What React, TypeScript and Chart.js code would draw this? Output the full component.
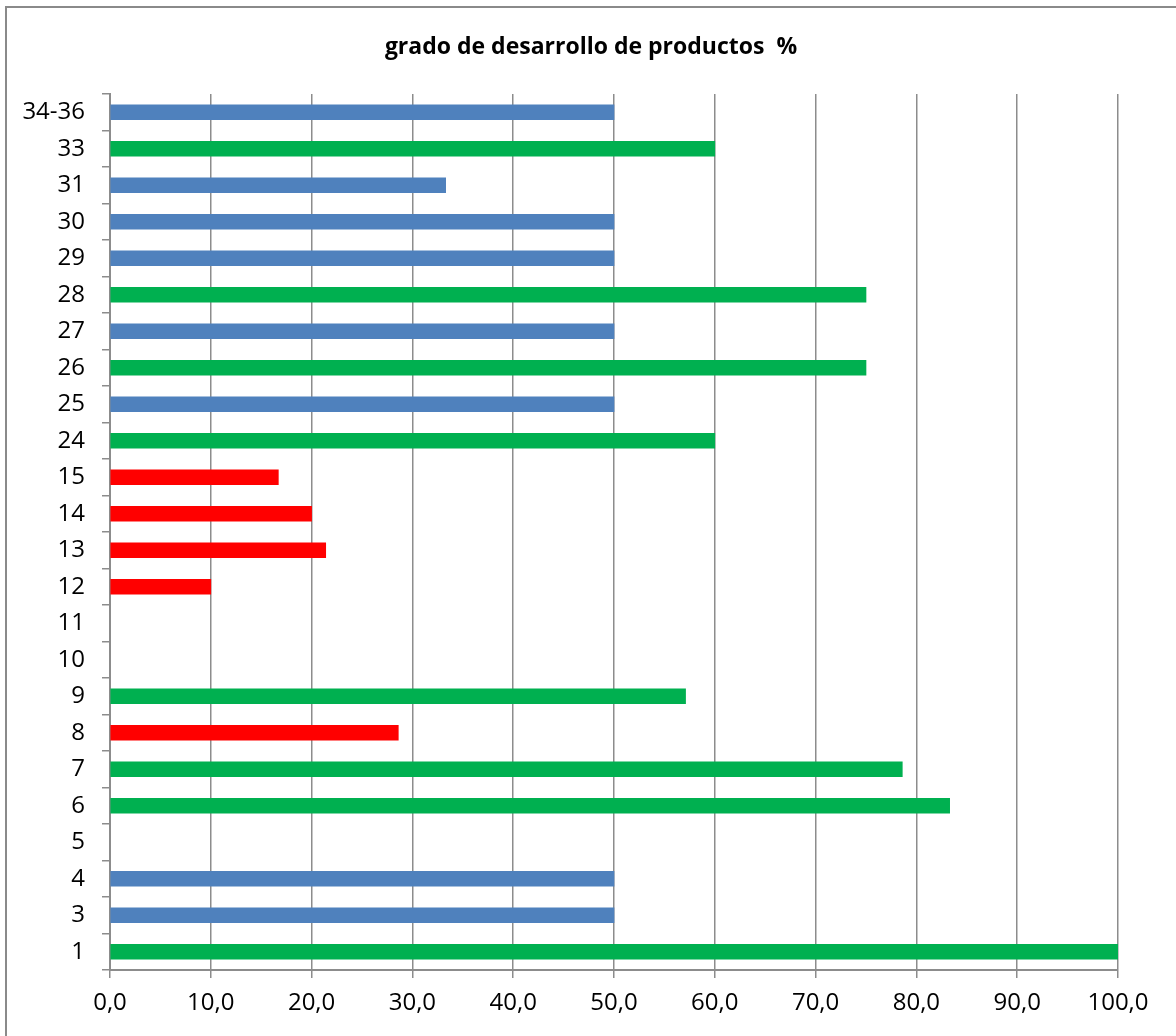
import React, { useEffect, useRef } from "react";
import { Chart, registerables } from "chart.js";

Chart.register(...registerables);

const TITLE = "grado de desarrollo de productos  %";

const categories: string[] = [
  "34-36", "33", "31", "30", "29", "28", "27", "26", "25", "24",
  "15", "14", "13", "12", "11", "10", "9", "8", "7", "6", "5", "4", "3", "1",
];

const values: (number | null)[] = [
  50, 60, 33.3, 50, 50, 75, 50, 75, 50, 60,
  16.7, 20, 21.4, 10, null, null, 57.1, 28.6, 78.6, 83.3, null, 50, 50, 100,
];

// status group per category: b = blue, g = green, r = red
const groups: string[] = [
  "b", "g", "b", "b", "b", "g", "b", "g", "b", "g",
  "r", "r", "r", "r", "r", "r", "g", "r", "g", "g", "b", "b", "b", "g",
];

const xTicks: number[] = [0, 10, 20, 30, 40, 50, 60, 70, 80, 90, 100];

const COLORS: Record<string, string> = {
  b: "#4F81BD",
  g: "#00B050",
  r: "#FF0000",
};

const FONT = "'Open Sans', 'DejaVu Sans', sans-serif";
const GRID = "#8c8c8c";

const frame = {
  id: "frame",
  afterDraw(chart: any) {
    const ctx = chart.ctx;
    ctx.save();
    ctx.strokeStyle = "#8a8a8a";
    ctx.lineWidth = 2;
    ctx.beginPath();
    ctx.moveTo(6, chart.height + 5);
    ctx.lineTo(6, 7);
    ctx.lineTo(chart.width + 5, 7);
    ctx.stroke();
    ctx.fillStyle = "#000";
    ctx.font = `bold 23px ${FONT}`;
    ctx.textAlign = "center";
    ctx.textBaseline = "middle";
    ctx.fillText(TITLE, 591, 47);
    ctx.restore();
  },
};

export default function App() {
  const ref = useRef<HTMLCanvasElement | null>(null);

  useEffect(() => {
    document.body.style.margin = "0";
    document.body.style.overflow = "hidden";
    const canvas = ref.current!;
    const chart = new Chart(canvas, {
      type: "bar",
      data: {
        labels: categories,
        datasets: [
          {
            data: values,
            backgroundColor: groups.map((g) => COLORS[g]),
            barThickness: 15,
            borderWidth: 0,
          },
        ],
      },
      options: {
        indexAxis: "y",
        responsive: false,
        animation: false,
        devicePixelRatio: 1,
        layout: { padding: { left: 0, right: 58, top: 94, bottom: 0 } },
        plugins: {
          legend: { display: false },
          tooltip: { enabled: false },
          title: { display: false },
        },
        scales: {
          x: {
            min: 0,
            max: 100,
            afterBuildTicks: (scale: any) => {
              scale.ticks = xTicks.map((v) => ({ value: v }));
            },
            afterFit: (scale: any) => {
              scale.height = 66;
            },
            ticks: {
              color: "#000",
              font: { family: FONT, size: 24 },
              padding: 11,
              maxRotation: 0,
              callback: (v: any) => Number(v).toFixed(1).replace(".", ","),
            },
            grid: {
              color: GRID,
              lineWidth: 1.5,
              drawTicks: true,
              tickLength: 8,
              tickColor: GRID,
            },
            border: { color: GRID, width: 2 },
          },
          y: {
            afterFit: (scale: any) => {
              scale.width = 110;
            },
            ticks: {
              color: "#000",
              font: { family: FONT, size: 24 },
              padding: 17,
              autoSkip: false,
            },
            grid: {
              drawOnChartArea: false,
              drawTicks: true,
              tickLength: 8,
              color: GRID,
              lineWidth: 1.5,
              offset: true,
            },
            border: { color: GRID, width: 2 },
          },
        },
      },
      plugins: [frame],
    });
    return () => chart.destroy();
  }, []);

  return (
    <div style={{ position: "fixed", left: 0, top: 0, width: 1176, height: 1036 }}>
      <canvas ref={ref} width={1176} height={1036} style={{ width: 1176, height: 1036 }} />
    </div>
  );
}
